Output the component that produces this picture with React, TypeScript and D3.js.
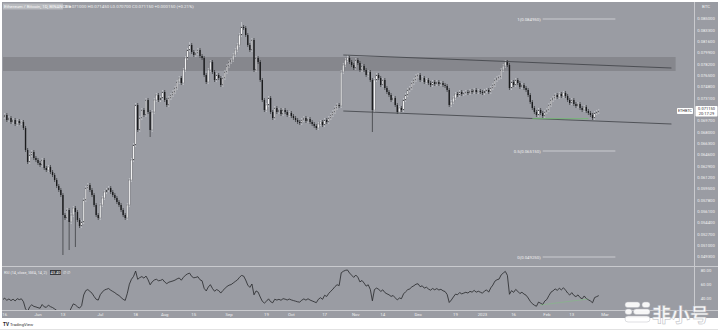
import React from "react";
import * as d3 from "d3";

const W = 718;
const H = 332;

// ---- data (ETH/BTC daily) ----
const firstDay = "2022-05-15";
const historyCloses = [0.0728, 0.0735, 0.0742, 0.0748, 0.074, 0.0745, 0.0743, 0.0738, 0.073, 0.0722, 0.0705, 0.0688, 0.0695, 0.07];
const closes = [
  0.07025, 0.07055, 0.0698, 0.0701, 0.0695, 0.0698, 0.0692, 0.06965, 0.06935, 0.0695,
  0.0686, 0.0653, 0.0635, 0.06455, 0.065, 0.0641, 0.0638, 0.06335, 0.06305, 0.0638,
  0.0626, 0.0623, 0.06275, 0.062, 0.06155, 0.0608, 0.0599, 0.0593, 0.05855, 0.05555,
  0.0551, 0.0563, 0.0545, 0.05555, 0.0566, 0.056, 0.0548, 0.0539, 0.0545, 0.0578,
  0.0596, 0.06005, 0.0593, 0.05855, 0.05705, 0.05555, 0.0551, 0.05705, 0.0581, 0.059,
  0.0593, 0.0596, 0.059, 0.05855, 0.0581, 0.0575, 0.05705, 0.0563, 0.05555, 0.0551,
  0.05705, 0.0608, 0.0638, 0.06605, 0.07205, 0.0683, 0.0701, 0.0713, 0.07055, 0.0728,
  0.071, 0.0683, 0.071, 0.0728, 0.07355, 0.0728, 0.0731, 0.074, 0.0728, 0.07205,
  0.0731, 0.07355, 0.074, 0.0746, 0.0755, 0.0761, 0.07535, 0.0773, 0.0791, 0.0803,
  0.08105, 0.08, 0.07955, 0.07985, 0.0803, 0.0794, 0.0791, 0.07655, 0.0755, 0.0773,
  0.0785, 0.077, 0.0758, 0.07655, 0.0761, 0.07505, 0.0761, 0.077, 0.0779, 0.0785,
  0.0788, 0.07955, 0.0803, 0.08105, 0.08255, 0.08375, 0.0836, 0.08255, 0.08105, 0.0803,
  0.0818, 0.0773, 0.0791, 0.0785, 0.0758, 0.0728, 0.0713, 0.07205, 0.0731, 0.071,
  0.0701, 0.0716, 0.071, 0.0713, 0.0707, 0.0713, 0.071, 0.07055, 0.07085, 0.0704,
  0.0701, 0.0698, 0.0695, 0.06935, 0.0698, 0.0701, 0.06965, 0.06995, 0.0695, 0.0692,
  0.0689, 0.0686, 0.0692, 0.0695, 0.06905, 0.0698, 0.0695, 0.0701, 0.07055, 0.071,
  0.0716, 0.07205, 0.0719, 0.077, 0.07805, 0.0788, 0.0791, 0.0785, 0.07805, 0.0776,
  0.0788, 0.07835, 0.0773, 0.0779, 0.0773, 0.07655, 0.077, 0.0758, 0.0713, 0.0758,
  0.07655, 0.0761, 0.07505, 0.0758, 0.0746, 0.074, 0.07355, 0.0728, 0.0731, 0.07205,
  0.071, 0.0716, 0.0713, 0.0728, 0.07355, 0.0743, 0.0746, 0.07535, 0.0758, 0.0764,
  0.07655, 0.0758, 0.0761, 0.0755, 0.0758, 0.07535, 0.07505, 0.0755, 0.0752, 0.0755,
  0.0752, 0.07535, 0.07505, 0.0749, 0.0743, 0.07205, 0.0725, 0.0731, 0.0737, 0.07355,
  0.074, 0.0737, 0.07385, 0.074, 0.07385, 0.07415, 0.074, 0.0743, 0.074, 0.07415,
  0.074, 0.07385, 0.07415, 0.0743, 0.074, 0.0746, 0.07505, 0.0758, 0.0761, 0.07625,
  0.0773, 0.0779, 0.0785, 0.07805, 0.0746, 0.0755, 0.07505, 0.0758, 0.07535, 0.07475,
  0.07505, 0.0746, 0.0743, 0.07355, 0.0725, 0.0716, 0.071, 0.07055, 0.0713, 0.07085,
  0.0704, 0.071, 0.0713, 0.07205, 0.0728, 0.0731, 0.07355, 0.07325, 0.0737, 0.0734,
  0.07385, 0.0734, 0.0728, 0.07235, 0.0728, 0.0722, 0.0719, 0.0722, 0.0716, 0.0713,
  0.07175, 0.07115, 0.07085, 0.07055, 0.0701, 0.07085, 0.071, 0.07115,
];
const highWicks = [
  { day: 90, high: 0.0815 },
  { day: 115, high: 0.0845 },
  { day: 166, high: 0.07955 },
  { day: 242, high: 0.0788 },
  { day: 270, high: 0.07415 },
];
const lowWicks = [
  { day: 29, low: 0.04955 },
  { day: 32, low: 0.0503 },
  { day: 35, low: 0.05075 },
  { day: 71, low: 0.06725 },
  { day: 178, low: 0.068 },
];
const priceTicks = [0.085, 0.0833, 0.0816, 0.0799, 0.0782, 0.0765, 0.0748, 0.0731, 0.0714, 0.0697, 0.068, 0.0663, 0.0646, 0.0629, 0.0612, 0.0595, 0.0578, 0.0561, 0.0544, 0.0527, 0.051, 0.0493];
const rsiTicks = [80, 60, 40];
const timeTicks: [string, string][] = [
  ["2022-05-16", "16"], ["2022-06-01", "Jun"], ["2022-06-13", "13"], ["2022-07-01", "Jul"],
  ["2022-07-18", "18"], ["2022-08-01", "Aug"], ["2022-08-15", "15"], ["2022-09-01", "Sep"],
  ["2022-09-19", "19"], ["2022-10-01", "Oct"], ["2022-10-17", "17"], ["2022-11-01", "Nov"],
  ["2022-11-14", "14"], ["2022-12-01", "Dec"], ["2022-12-19", "19"], ["2023-01-01", "2023"],
  ["2023-01-16", "16"], ["2023-02-01", "Feb"], ["2023-02-13", "13"], ["2023-03-01", "Mar"],
];
const fibLevels = [
  { label: "1", price: 0.08495 },
  { label: "0.5", price: 0.06515 },
  { label: "0", price: 0.04925 },
];
const fibSpan = ["2023-01-30", "2023-03-06"];
const resistanceZone = { top: 0.07925, bottom: 0.07715, end: "2023-04-04" };
const channelUpper: [string, number][] = [["2022-10-26", 0.07955], ["2023-04-02", 0.0776]];
const channelLower: [string, number][] = [["2022-10-26", 0.07115], ["2023-04-02", 0.0692]];
const supportGreen: [string, number][] = [["2023-01-25", 0.07], ["2023-02-21", 0.07]];
const rsiGreen: [string, number][] = [["2023-01-29", 30], ["2023-02-21", 38.6]];

// ---- layout ----
const L = { left: 2, axisX: 694.5, top: 2, mainBottom: 266, rsiTop: 267, rsiBottom: 310, timeBottom: 318 };
const BG = "#9a9ca3";
const FONT = "Roboto, 'Open Sans', sans-serif";

const x = d3.scaleUtc().domain([new Date("2022-06-01"), new Date("2023-03-01")]).range([38, 605]);
const y = d3.scaleLinear().domain([0.04805, 0.08735]).range([265, 3]);
const yr = d3.scaleLinear().domain([20, 80]).range([312, 270]);

const dayDate = (i: number) => {
  const d = new Date(firstDay);
  d.setUTCDate(d.getUTCDate() + i);
  return d;
};
const WICK = 0.0003;

function computeRsi(values: number[], n: number) {
  const out: (number | null)[] = values.map(() => null);
  let g = 0, l = 0;
  for (let i = 1; i <= n; i++) {
    const d = values[i] - values[i - 1];
    g += Math.max(d, 0);
    l += Math.max(-d, 0);
  }
  let ag = g / n, al = l / n;
  out[n] = al === 0 ? 100 : 100 - 100 / (1 + ag / al);
  for (let i = n + 1; i < values.length; i++) {
    const d = values[i] - values[i - 1];
    ag = (ag * (n - 1) + Math.max(d, 0)) / n;
    al = (al * (n - 1) + Math.max(-d, 0)) / n;
    out[i] = al === 0 ? 100 : 100 - 100 / (1 + ag / al);
  }
  return out;
}

export default function App() {
  const all = [...historyCloses, ...closes];
  const rsiAll = computeRsi(all, 14);
  const offset = historyCloses.length;

  const candles = all.map((c, k) => {
    const i = k - offset;
    const o = k === 0 ? c : all[k - 1];
    let hi = Math.max(o, c) + WICK;
    let lo = Math.min(o, c) - WICK;
    const hw = highWicks.find((w) => w.day === i);
    const lw = lowWicks.find((w) => w.day === i);
    if (hw) hi = hw.high;
    if (lw) lo = lw.low;
    return { i, date: dayDate(i), o, c, hi, lo, up: c >= o };
  });

  const step = x(dayDate(1)) - x(dayDate(0));
  const bw = step * 0.66;

  const rsiPts = all
    .map((_, k) => ({ date: dayDate(k - offset), v: rsiAll[k] }))
    .filter((p) => p.v !== null) as { date: Date; v: number }[];
  const rsiLine = d3.line<{ date: Date; v: number }>().x((p) => x(p.date)).y((p) => yr(p.v))(rsiPts) || "";

  const last = candles[candles.length - 1];
  const f6 = d3.format(".6f");
  const chg = last.c - last.o;
  const ohlc = `O${f6(last.o)} H${f6(last.hi)} L${f6(last.lo)} C${f6(last.c)} ${chg >= 0 ? "+" : "−"}${f6(Math.abs(chg))} (${chg >= 0 ? "+" : "−"}${d3.format(".2f")(Math.abs((chg / last.o) * 100))}%)`;
  const lastRsi = rsiAll[rsiAll.length - 1] as number;

  const lineOf = (pts: [string, number][], sc: (v: number) => number) =>
    ({ x1: x(new Date(pts[0][0])), y1: sc(pts[0][1]), x2: x(new Date(pts[1][0])), y2: sc(pts[1][1]) });

  const up = lineOf(channelUpper, y);
  const lo = lineOf(channelLower, y);
  const gr = lineOf(supportGreen, y);
  const rg = lineOf(rsiGreen, yr);
  const fx1 = x(new Date(fibSpan[0]));
  const fx2 = x(new Date(fibSpan[1]));

  return (
    <div style={{ position: "absolute", left: 0, top: 0 }}>
      <svg width={W} height={H} style={{ display: "block" }} fontFamily={FONT}>
        <defs>
          <clipPath id="mainClip"><rect x={L.left + 1} y={L.top} width={L.axisX - L.left - 1} height={L.mainBottom - L.top} /></clipPath>
          <clipPath id="rsiClip"><rect x={L.left + 1} y={L.rsiTop} width={L.axisX - L.left - 1} height={L.rsiBottom - L.rsiTop} /></clipPath>
        </defs>
        <rect x={0} y={0} width={W} height={H} fill="#ffffff" />
        <rect x={L.left} y={L.top} width={W - L.left} height={L.timeBottom - L.top} fill={BG} />
        {/* separators */}
        <line x1={L.left} x2={W} y1={L.mainBottom + 0.5} y2={L.mainBottom + 0.5} stroke="#c9cace" strokeWidth={1} />
        <line x1={L.left} x2={W} y1={L.rsiBottom + 0.5} y2={L.rsiBottom + 0.5} stroke="#c9cace" strokeWidth={1} />
        <line x1={L.axisX} x2={L.axisX} y1={L.top} y2={L.timeBottom} stroke="#c9cace" strokeWidth={1} />
        <line x1={0} x2={W} y1={H - 2.5} y2={H - 2.5} stroke="#e2e2e2" strokeWidth={1} />

        <g clipPath="url(#mainClip)">
          {/* resistance zone */}
          <rect x={L.left} y={y(resistanceZone.top)} width={x(new Date(resistanceZone.end)) - L.left}
            height={y(resistanceZone.bottom) - y(resistanceZone.top)} fill="#82848a" opacity={0.85} />
          {/* candles */}
          {candles.map((d) => {
            const cx = x(d.date);
            const top = y(Math.max(d.o, d.c));
            const h = Math.max(0.7, y(Math.min(d.o, d.c)) - top);
            return (
              <g key={d.i}>
                <line x1={cx} x2={cx} y1={y(d.hi)} y2={y(d.lo)} stroke={d.up ? "#dcdde0" : "#202124"} strokeWidth={0.6} />
                <rect x={cx - bw / 2} y={top} width={bw} height={h}
                  fill={d.up ? "#f1f1f2" : "#1b1c1e"} stroke={d.up ? "#4a4b4f" : "none"} strokeWidth={0.3} />
              </g>
            );
          })}
          {/* channel */}
          <line {...up} stroke="#3e4045" strokeWidth={0.8} />
          <line {...lo} stroke="#3e4045" strokeWidth={0.8} />
          <line {...gr} stroke="#74b874" strokeWidth={0.9} />
          {/* fib levels */}
          {fibLevels.map((f) => (
            <g key={f.label}>
              <line x1={fx1} x2={fx2} y1={y(f.price)} y2={y(f.price)} stroke="#d7d8dc" strokeWidth={0.8} />
              <text x={fx1 - 2} y={y(f.price) + 1.5} fontSize={4.3} fill="#f2f2f2" textAnchor="end">
                {`${f.label}(${f6(f.price)})`}
              </text>
            </g>
          ))}
        </g>

        {/* RSI */}
        <g clipPath="url(#rsiClip)">
          <path d={rsiLine} fill="none" stroke="#26272a" strokeWidth={0.8} />
          <line {...rg} stroke="#7cc47c" strokeWidth={0.8} strokeDasharray="1.2,0.8" />
        </g>
        <text x={4} y={273.5} fontSize={3.9} fill="#f0f0f0" textLength={43} lengthAdjust="spacingAndGlyphs">RSI (14, close, SMA, 14, 2)</text>
        <rect x={50} y={270} width={11} height={5} fill="#3a3b3f" />
        <text x={55.5} y={273.7} fontSize={4} fill="#ffffff" textAnchor="middle">{d3.format(".2f")(lastRsi)}</text>
        <text x={63} y={273.7} fontSize={4} fill="#f0f0f0">∅ ∅</text>
        {rsiTicks.map((t) => (
          <text key={t} x={706} y={yr(t) + 1.5} fontSize={4.2} fill="#f2f2f2" textAnchor="middle">{d3.format(".2f")(t)}</text>
        ))}

        {/* price axis */}
        <text x={706} y={8} fontSize={4.3} fill="#f2f2f2" textAnchor="middle">BTC</text>
        {priceTicks.map((t) => (
          <text key={t} x={706} y={y(t) + 1.5} fontSize={4.2} fill="#f2f2f2" textAnchor="middle">{f6(t)}</text>
        ))}
        <rect x={677} y={y(last.c) - 3} width={16} height={6} fill="#ffffff" rx={0.8} />
        <text x={685} y={y(last.c) + 1.3} fontSize={3.8} fill="#333" textAnchor="middle">ETHBTC</text>
        <rect x={695.5} y={y(last.c) - 5} width={22} height={10.5} fill="#ffffff" rx={0.8} />
        <text x={706.5} y={y(last.c) - 0.6} fontSize={4} fill="#333" textAnchor="middle">{f6(last.c)}</text>
        <text x={706.5} y={y(last.c) + 4} fontSize={4} fill="#333" textAnchor="middle">20:17:29</text>

        {/* time axis */}
        {timeTicks.map(([d, lab]) => (
          <text key={d} x={x(new Date(d))} y={315.5} fontSize={4.3} fill="#f2f2f2" textAnchor="middle">{lab}</text>
        ))}

        {/* header */}
        <rect x={3} y={3.5} width={60} height={6} fill="#ffffff" opacity={0.3} />
        <text x={4} y={8} fontSize={4.4} fill="#f7f7f7">Ethereum / Bitcoin, 1D, BINANCE ●</text>
        <text x={65} y={8} fontSize={4.4} fill="#f0f0f0">{ohlc}</text>

        {/* TradingView logo */}
        <text x={3} y={325.5} fontSize={4.6} fontWeight="bold" fill="#222">TV</text>
        <text x={10} y={325.5} fontSize={4.2} fill="#333">TradingView</text>

        {/* watermark */}
        <g opacity={0.92}>
          <rect x={625} y={302} width={15} height={5.5} rx={2.7} fill="#ffffff" stroke="#b9bbc0" strokeWidth={0.5} />
          <rect x={642} y={302} width={8} height={5.5} rx={2.7} fill="#ffffff" stroke="#b9bbc0" strokeWidth={0.5} />
          <rect x={625} y={309} width={7} height={5.5} rx={2.7} fill="#ffffff" stroke="#b9bbc0" strokeWidth={0.5} />
          <rect x={633.5} y={309} width={16.5} height={5.5} rx={2.7} fill="#ffffff" stroke="#b9bbc0" strokeWidth={0.5} />
          <rect x={625} y={316} width={25} height={6} rx={3} fill="#ffffff" stroke="#b9bbc0" strokeWidth={0.5} />
          <text x={652} y={321.5} fontSize={19} fontWeight="bold" fill="#ffffff" stroke="#b0b2b7" strokeWidth={0.5}
            fontFamily="'Noto Sans CJK SC', sans-serif">非小号</text>
        </g>
      </svg>
    </div>
  );
}
